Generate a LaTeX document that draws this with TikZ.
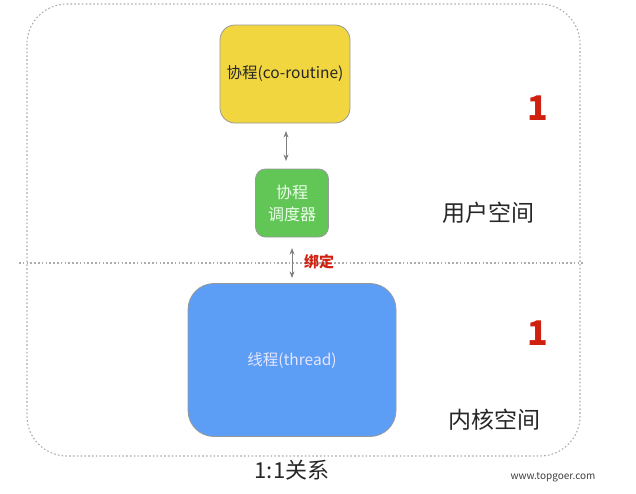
\documentclass[tikz,border=0pt]{standalone}
\usepackage{fontspec}
\setmainfont{Noto Sans CJK SC}
\usepackage{xcolor}
\usetikzlibrary{arrows.meta}

\definecolor{coyellow}{HTML}{F1D640}
\definecolor{schedgreen}{HTML}{62C656}
\definecolor{threadblue}{HTML}{5C9EF5}
\definecolor{bindred}{HTML}{D0200F}

\begin{document}
\begin{tikzpicture}[x=1pt,y=-1pt]
                \useasboundingbox (0,0) rectangle (636,493);
                % outer frame and split line
                \tikzset{frameline/.style={draw=gray!65, line width=1.1pt, dash pattern=on 1.6pt off 2.2pt}}
                \draw [frameline, rounded corners=40] (27,4) rectangle (580,456);
                \draw [frameline] (19,263) -- (585,263);
                \begin{scope}[every node/.style={rounded corners,draw=gray!80,thick,align=center}]
                    \node (coroutine) [fill=coyellow, text=black!85, minimum width=130, minimum height=98, rounded corners=15, font=\fontsize{15.5}{18}\selectfont] at (285,74) {协程(co-routine)};
                    \node (sched) [fill=schedgreen, text=white!92!green, minimum width=73, minimum height=68, rounded corners=10, font=\fontsize{16}{22}\selectfont] at (292,203) {协程\\调度器};
                    \node (thread) [fill=threadblue, text=white!90!blue, minimum width=208, minimum height=153, rounded corners=26, font=\fontsize{15.5}{18}\selectfont] at (292,360) {线程(thread)};
                \end{scope}
                \begin{scope}[every node/.style={inner sep=0}]
                    \node (one1) [text=bindred, font=\fontsize{34}{34}\bfseries] at (538,108) {1};
                    \node (one2) [text=bindred, font=\fontsize{34}{34}\bfseries] at (538,333) {1};
                    \node (user) [text=black!85, font=\fontsize{23}{23}\selectfont] at (488,213) {用户空间};
                    \node (kernel) [text=black!85, font=\fontsize{23}{23}\selectfont] at (494,420) {内核空间};
                    \node (ratio) [text=black!85, font=\fontsize{22}{22}\selectfont] at (292,470) {1:1关系};
                    \node (site) [text=black!75, font=\fontsize{10}{10}\selectfont] at (553,477) {www.topgoer.com};
                    \node (bind) [text=bindred, font=\fontsize{15}{15}\bfseries, anchor=west] at (304,262) {绑定};
                \end{scope}
                \coordinate (a1) at (286,131);
                \coordinate (a2) at (286,161);
                \coordinate (b1) at (292,248);
                \coordinate (b2) at (292,278);
                \begin{scope}[>={Stealth[gray]},
                    every edge/.style={draw=gray,thick}]
                    \path [<->] (a1) edge (a2);
                    \path [<->] (b1) edge (b2);
                \end{scope}
            \end{tikzpicture}
\end{document}
